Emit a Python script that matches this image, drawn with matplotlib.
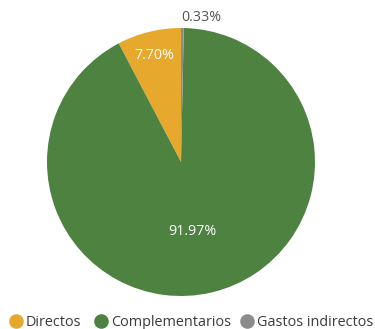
import numpy as np
import matplotlib
matplotlib.use("Agg")
import matplotlib.pyplot as plt
from matplotlib.lines import Line2D

categories = ["Directos", "Complementarios", "Gastos indirectos"]
shares = [7.70, 91.97, 0.33]
colors = ["#E6A92E", "#4E8241", "#8C8C8C"]

plt.rcParams["font.family"] = ["Open Sans", "DejaVu Sans"]

W, H = 375, 329
fig = plt.figure(figsize=(W / 100, H / 100), dpi=100)
cx, cy, r = 181, 162, 134
ax = fig.add_axes([(cx - r) / W, (H - cy - r) / H, 2 * r / W, 2 * r / H])

wedges, _ = ax.pie(shares, colors=colors, startangle=90, counterclock=True,
                   radius=1.0, wedgeprops=dict(linewidth=0))
ax.set_xlim(-1, 1)
ax.set_ylim(-1, 1)
ax.set_aspect("equal")
ax.axis("off")

# percentage labels placed along each wedge's mid-angle
label_r = [0.82, 0.53, 1.08]
label_shift = [(0, 0), (-0.04, 0), (0.14, 0)]
label_color = ["white", "white", "#555555"]
for w, val, lr, sh, col in zip(wedges, shares, label_r, label_shift, label_color):
    ang = np.deg2rad((w.theta1 + w.theta2) / 2)
    x = lr * np.cos(ang) + sh[0]
    y = lr * np.sin(ang) + sh[1]
    ax.text(x, y, f"{val:.2f}%", ha="center", va="center", color=col,
            fontsize=10.3)

# legend row along the bottom
leg_x = [16, 101, 247]
leg_y = 321
for name, col, lx in zip(categories, colors, leg_x):
    fig.add_artist(Line2D([lx / W], [1 - leg_y / H], marker="o",
                          markersize=10.5, color=col, markeredgewidth=0,
                          linestyle="none", transform=fig.transFigure))
    fig.text((lx + 10) / W, 1 - (leg_y + 1) / H, name, color="#3a3a3a",
             fontsize=10.4, ha="left", va="center")

fig.savefig("out.png", dpi=100)
